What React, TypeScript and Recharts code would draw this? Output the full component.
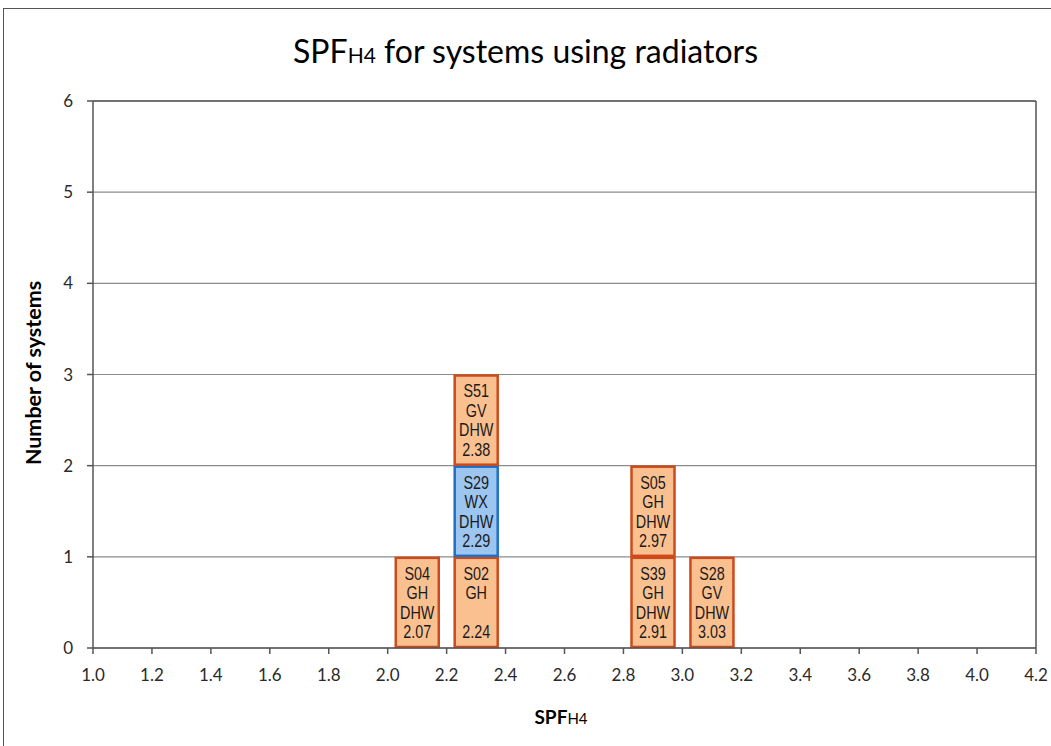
import { BarChart, Bar, XAxis, YAxis, CartesianGrid, ReferenceLine } from "recharts";

const binCenters = [1.1, 1.3, 1.5, 1.7, 1.9, 2.1, 2.3, 2.5, 2.7, 2.9, 3.1, 3.3, 3.5, 3.7, 3.9, 4.1];
const xTicks = [1.0, 1.2, 1.4, 1.6, 1.8, 2.0, 2.2, 2.4, 2.6, 2.8, 3.0, 3.2, 3.4, 3.6, 3.8, 4.0, 4.2];
const yTicks = [0, 1, 2, 3, 4, 5, 6];

const systemIds = ["S04", "S02", "S29", "S51", "S39", "S05", "S28"];
const systemTypes = ["GH", "GH", "WX", "GV", "GH", "GH", "GV"];
const systemDhw = ["DHW", "", "DHW", "DHW", "DHW", "DHW", "DHW"];
const systemSpf = [2.07, 2.24, 2.29, 2.38, 2.91, 2.97, 3.03];

type Sys = { id: string; type: string; dhw: string; spf: number };

const buildData = () => {
  const bins: Sys[][] = binCenters.map(() => []);
  systemIds.forEach((id, i) => {
    const idx = Math.floor((systemSpf[i] - 1.0) / 0.2 + 1e-9);
    bins[idx].push({ id, type: systemTypes[i], dhw: systemDhw[i], spf: systemSpf[i] });
  });
  return binCenters.map((x, b) => {
    const list = [...bins[b]].sort((a, c) => a.spf - c.spf);
    const row: any = { x };
    for (let l = 0; l < 3; l++) {
      row[`n${l}`] = list[l] ? 1 : 0;
      row[`s${l}`] = list[l] || null;
    }
    return row;
  });
};

const data = buildData();

const FONT = "Lato, 'Open Sans', sans-serif";

// boxes: one per system, text squeezed a bit to look like a narrow font
const renderBox = (level: number) => (props: any) => {
  const { x, y, width, height, payload } = props;
  const sys: Sys | null = payload ? payload[`s${level}`] : null;
  if (!sys || !height) return <g />;
  const wx = sys.type === "WX";
  const cx = x + width / 2;
  const cy = y + height / 2;
  const lines = [sys.id, sys.type, sys.dhw, sys.spf.toFixed(2)];
  return (
    <g>
      <rect
        x={x + 1}
        y={y + 1}
        width={width - 2}
        height={height - 2}
        fill={wx ? "#9cc5f0" : "#fbc08f"}
        stroke={wx ? "#1f6fc6" : "#cc4a1c"}
        strokeWidth={2.5}
      />
      <g transform={`translate(${cx} 0) scale(0.8 1) translate(${-cx} 0)`}>
        {lines.map((t, i) => (
          <text
            key={i}
            x={cx}
            y={cy + (i - 1.5) * 19.5}
            textAnchor="middle"
            dominantBaseline="central"
            fontFamily="'Liberation Sans', Arial, sans-serif"
            fontSize={18}
            fill="#1a1a1a"
          >
            {t}
          </text>
        ))}
      </g>
    </g>
  );
};

const tickStyle = { fontSize: 17, fill: "#2a2a2a", fontFamily: FONT };

export default function App() {
  return (
    <div style={{ position: "fixed", left: 0, top: 0, width: 1051, height: 746, overflow: "hidden", background: "#fff" }}>
      <div
        style={{
          position: "absolute",
          left: 3,
          top: 8,
          width: 1070,
          height: 760,
          border: "1px solid #555",
        }}
      />
      <div
        style={{
          position: "absolute",
          left: 0,
          width: 1051,
          top: 31,
          textAlign: "center",
          fontFamily: FONT,
          fontSize: 32,
          color: "#000",
          lineHeight: "40px",
        }}
      >
        SPF<span style={{ fontSize: 21 }}>H4</span> for systems using radiators
      </div>
      <div
        style={{
          position: "absolute",
          left: 33,
          top: 373,
          transform: "translate(-50%, -50%) rotate(-90deg)",
          whiteSpace: "nowrap",
          fontFamily: FONT,
          fontWeight: 700,
          fontSize: 21.5,
          color: "#000",
        }}
      >
        Number of systems
      </div>
      <div
        style={{
          position: "absolute",
          left: 561,
          top: 716,
          transform: "translate(-50%, -50%)",
          whiteSpace: "nowrap",
          fontFamily: FONT,
          fontWeight: 700,
          fontSize: 19,
          color: "#000",
        }}
      >
        SPF<span style={{ fontSize: 15, fontWeight: 400 }}>H4</span>
      </div>
      <div style={{ position: "absolute", left: 0, top: 0 }}>
        <BarChart
          width={1051}
          height={746}
          data={data}
          margin={{ top: 101, right: 15, bottom: 68, left: 53 }}
          barCategoryGap="12%"
        >
          <CartesianGrid horizontal vertical={false} stroke="#8c8c8c" strokeWidth={1.2} />
          <XAxis
            type="number"
            dataKey="x"
            domain={[1.0, 4.2]}
            ticks={xTicks}
            interval={0}
            allowDataOverflow
            height={30}
            tickSize={6}
            tickMargin={15}
            tickFormatter={(v: number) => v.toFixed(1)}
            tick={tickStyle}
            stroke="#555"
            strokeWidth={1.5}
          />
          <YAxis
            type="number"
            domain={[0, 6]}
            ticks={yTicks}
            interval={0}
            width={40}
            tickSize={6}
            tickMargin={14}
            tick={tickStyle}
            stroke="#555"
            strokeWidth={1.5}
          />
          <ReferenceLine y={6} stroke="#555" strokeWidth={1.5} />
          <ReferenceLine x={4.2} stroke="#555" strokeWidth={1.5} />
          <Bar dataKey="n0" stackId="a" isAnimationActive={false} shape={renderBox(0)} />
          <Bar dataKey="n1" stackId="a" isAnimationActive={false} shape={renderBox(1)} />
          <Bar dataKey="n2" stackId="a" isAnimationActive={false} shape={renderBox(2)} />
        </BarChart>
      </div>
    </div>
  );
}
